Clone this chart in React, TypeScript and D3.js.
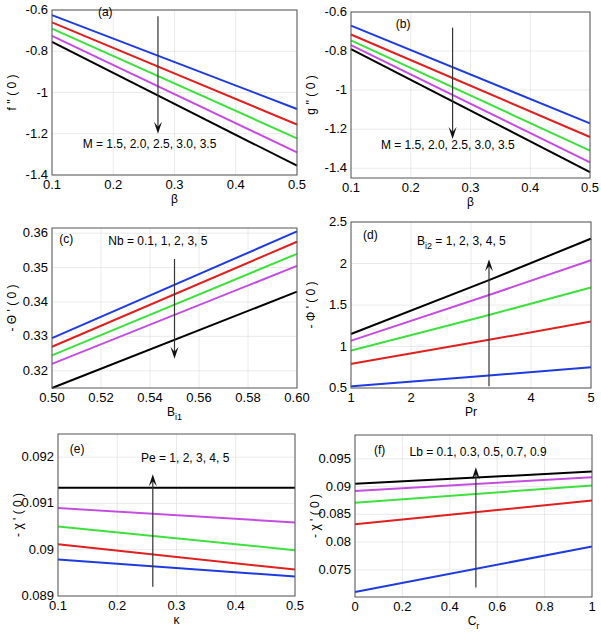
import * as d3 from 'd3';
import React from 'react';

const colours = ['#1f3be0', '#e01f1f', '#3ee03e', '#c44de0', '#000000'];

// x values and series (5 curves each)
const xA = [0.1, 0.5];
const seriesA = [[-0.625, -1.08], [-0.66, -1.155], [-0.69, -1.222], [-0.725, -1.29], [-0.755, -1.355]];
const xB = [0.1, 0.5];
const seriesB = [[-0.67, -1.17], [-0.715, -1.24], [-0.745, -1.31], [-0.77, -1.37], [-0.79, -1.42]];
const xC = [0.5, 0.6];
const seriesC = [[0.3295, 0.3605], [0.327, 0.3575], [0.3245, 0.354], [0.322, 0.3505], [0.315, 0.343]];
const xD = [1, 3.3, 5];
const seriesD = [[0.52, 0.65, 0.75], [0.79, 1.08, 1.3], [0.95, 1.38, 1.71], [1.07, 1.62, 2.04], [1.15, 1.8, 2.3]];
const xE = [0.1, 0.5];
const seriesE = [[0.08979, 0.08942], [0.09012, 0.08957], [0.0905, 0.08999], [0.0909, 0.09059], [0.09134, 0.09134]];
const xF = [0, 1];
const seriesF = [[0.071, 0.0792], [0.0832, 0.0875], [0.0871, 0.0902], [0.0892, 0.0917], [0.0905, 0.0927]];

interface PanelProps {
    box: [number, number, number, number];
    xDomain: [number, number];
    yDomain: [number, number];
    xTicks: number[];
    yTicks: number[];
    xs: number[];
    series: number[][];
    xFmt: (v: number) => string;
    yFmt: (v: number) => string;
    tag: string;
    tagPos: [number, number];
    note: React.ReactNode;
    notePos: [number, number];
    arrow: [number, number, number];
    yLabel: React.ReactNode;
    xLabel: React.ReactNode;
}

function Panel(p: PanelProps) {
    const [l, t, r, b] = p.box;
    const x = d3.scaleLinear().domain(p.xDomain).range([l, r]);
    const y = d3.scaleLinear().domain(p.yDomain).range([b, t]);
    const line = d3.line<number>().x((_, i) => x(p.xs[i])).y(d => y(d)).curve(d3.curveMonotoneX);
    const [ax, ay0, ay1] = p.arrow;
    const up = ay1 > ay0;
    const tipY = y(ay1);
    return (
        <g fontFamily="Liberation Sans, Arial, sans-serif" fontSize={12}>
            <rect x={l} y={t} width={r - l} height={b - t} fill="white" />
            {p.xTicks.map(v => <line key={'gx' + v} x1={x(v)} x2={x(v)} y1={t} y2={b} stroke="#e4e4e4" strokeWidth={0.8} />)}
            {p.yTicks.map(v => <line key={'gy' + v} x1={l} x2={r} y1={y(v)} y2={y(v)} stroke="#e4e4e4" strokeWidth={0.8} />)}
            {p.series.map((s, i) => <path key={i} d={line(s) || ''} fill="none" stroke={colours[i]} strokeWidth={2} />)}
            <rect x={l} y={t} width={r - l} height={b - t} fill="none" stroke="#555" strokeWidth={1} />
            {p.xTicks.map(v => <text key={'tx' + v} x={x(v)} y={b + 14} textAnchor="middle" fontSize={13}>{p.xFmt(v)}</text>)}
            {p.yTicks.map(v => <text key={'ty' + v} x={l - 4} y={y(v) + 4} textAnchor="end" fontSize={13}>{p.yFmt(v)}</text>)}
            <line x1={x(ax)} x2={x(ax)} y1={y(ay0)} y2={tipY + (up ? 6 : -6)} stroke="#333" strokeWidth={1.2} />
            <path d={`M${x(ax)},${tipY} L${x(ax) - 4},${tipY + (up ? 12 : -12)} L${x(ax)},${tipY + (up ? 7 : -7)} L${x(ax) + 4},${tipY + (up ? 12 : -12)} Z`} fill="#111" />
            <text x={x(p.tagPos[0])} y={y(p.tagPos[1])}>{p.tag}</text>
            <text x={x(p.notePos[0])} y={y(p.notePos[1])}>{p.note}</text>
            <text x={(l + r) / 2} y={b + 28} textAnchor="middle">{p.xLabel}</text>
            <text transform={`translate(${l - 36},${(t + b) / 2}) rotate(-90)`} textAnchor="middle">{p.yLabel}</text>
        </g>
    );
}

const f1 = (v: number) => String(v);
const f2 = (v: number) => d3.format('.2f')(v);

export default function App() {
    return (
        <svg width={601} height={640} style={{ position: 'absolute', left: 0, top: 0, background: 'white' }}>
            <Panel box={[52, 10, 297, 175]} xDomain={[0.1, 0.5]} yDomain={[-1.4, -0.6]} xTicks={[0.1, 0.2, 0.3, 0.4, 0.5]}
                yTicks={[-1.4, -1.2, -1, -0.8, -0.6]} xs={xA} series={seriesA} xFmt={f1} yFmt={f1}
                tag="(a)" tagPos={[0.175, -0.63]} note="M = 1.5, 2.0, 2.5, 3.0, 3.5" notePos={[0.15, -1.27]}
                arrow={[0.273, -0.63, -1.2]} xLabel="β" yLabel="f '' ( 0 )" />
            <Panel box={[351, 12, 590, 178]} xDomain={[0.1, 0.5]} yDomain={[-1.45, -0.6]} xTicks={[0.1, 0.2, 0.3, 0.4, 0.5]}
                yTicks={[-1.4, -1.2, -1, -0.8, -0.6]} xs={xB} series={seriesB} xFmt={f1} yFmt={f1}
                tag="(b)" tagPos={[0.175, -0.68]} note="M = 1.5, 2.0, 2.5, 3.0, 3.5" notePos={[0.15, -1.3]}
                arrow={[0.27, -0.68, -1.25]} xLabel="β" yLabel="g '' ( 0 )" />
            <Panel box={[52, 228, 297, 388]} xDomain={[0.5, 0.6]} yDomain={[0.315, 0.3615]} xTicks={[0.5, 0.52, 0.54, 0.56, 0.58, 0.6]}
                yTicks={[0.32, 0.33, 0.34, 0.35, 0.36]} xs={xC} series={seriesC} xFmt={f2} yFmt={f2}
                tag="(c)" tagPos={[0.503, 0.357]} note="Nb = 0.1, 1, 2, 3, 5" notePos={[0.523, 0.3565]}
                arrow={[0.55, 0.3525, 0.3235]} xLabel={<tspan>B<tspan fontSize={9} dy={4}>i1</tspan></tspan>} yLabel="- Θ ' ( 0 )" />
            <Panel box={[351, 222, 591, 388]} xDomain={[1, 5]} yDomain={[0.5, 2.5]} xTicks={[1, 2, 3, 4, 5]}
                yTicks={[0.5, 1, 1.5, 2, 2.5]} xs={xD} series={seriesD} xFmt={f1} yFmt={f1}
                tag="(d)" tagPos={[1.2, 2.3]} note={<tspan>B<tspan fontSize={9} dy={4}>i2</tspan><tspan dy={-4}> = 1, 2, 3, 4, 5</tspan></tspan>} notePos={[2.1, 2.22]}
                arrow={[3.3, 0.52, 2.05]} xLabel="Pr" yLabel="- Φ ' ( 0 )" />
            <Panel box={[58, 434, 295, 596]} xDomain={[0.1, 0.5]} yDomain={[0.089, 0.0925]} xTicks={[0.1, 0.2, 0.3, 0.4, 0.5]}
                yTicks={[0.089, 0.09, 0.091, 0.092]} xs={xE} series={seriesE} xFmt={f1} yFmt={d3.format('~f')}
                tag="(e)" tagPos={[0.12, 0.0921]} note="Pe = 1, 2, 3, 4, 5" notePos={[0.24, 0.0919]}
                arrow={[0.26, 0.0892, 0.09163]} xLabel="κ" yLabel="- χ ' ( 0 )" />
            <Panel box={[355, 435, 592, 597]} xDomain={[0, 1]} yDomain={[0.0701, 0.0993]} xTicks={[0, 0.2, 0.4, 0.6, 0.8, 1]}
                yTicks={[0.075, 0.08, 0.085, 0.09, 0.095]} xs={xF} series={seriesF} xFmt={f1} yFmt={d3.format('~f')}
                tag="(f)" tagPos={[0.08, 0.0958]} note="Lb = 0.1, 0.3, 0.5, 0.7, 0.9" notePos={[0.23, 0.0955]}
                arrow={[0.51, 0.0718, 0.0935]} xLabel={<tspan>C<tspan fontSize={9} dy={4}>r</tspan></tspan>} yLabel="- χ ' ( 0 )" />
        </svg>
    );
}
